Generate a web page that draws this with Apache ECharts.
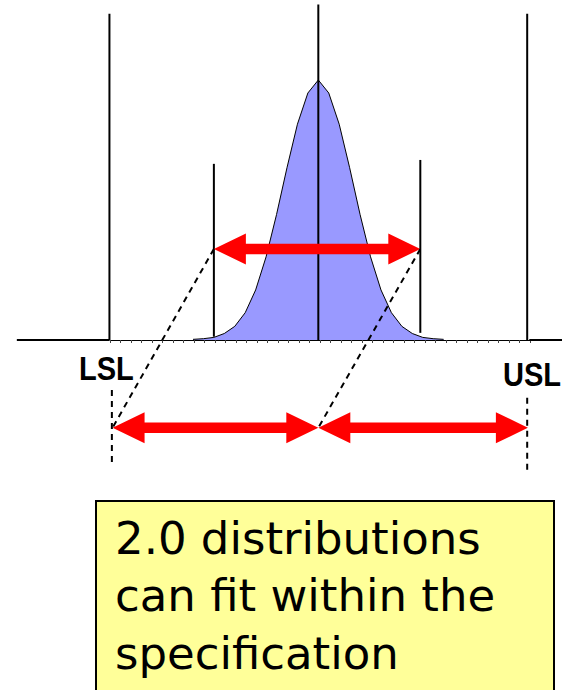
<!DOCTYPE html>
<html>
<head>
<meta charset="utf-8">
<title>Cp = 2.0</title>
<script src="https://cdn.jsdelivr.net/npm/echarts@6/dist/echarts.min.js"></script>
<style>
    html, body { margin: 0; padding: 0; background: #fff; }
    #chart { width: 562px; height: 690px; }
</style>
</head>
<body>
<div id="chart"></div>
<script>
// x in sigma units (mean = 0), y in density units

// bell curve vertices
const curveX = [-3.6, -3.3, -3.0, -2.7, -2.4, -2.1, -1.8, -1.5, -1.2, -0.9, -0.6, -0.3, 0,
    0.3, 0.6, 0.9, 1.2, 1.5, 1.8, 2.1, 2.4, 2.7, 3.0, 3.3, 3.6]
const curveY = [0.001, 0.002, 0.004, 0.010, 0.021, 0.042, 0.077, 0.128, 0.193, 0.265, 0.332, 0.380, 0.400,
    0.380, 0.332, 0.265, 0.193, 0.128, 0.077, 0.042, 0.021, 0.010, 0.004, 0.002, 0.001]

// spec limits (LSL, USL) and their line tops
const specX = [-6, 6]
const specTop = [0.502, 0.502]
// mean line
const meanX = 0
const meanTop = 0.516
// +/- 3 sigma lines
const sigmaX = [-3.0, 2.93]
const sigmaBottom = [0.005, 0.011]
const sigmaTop = [0.271, 0.277]

// thick baseline pieces outside the spec range
const baseLeft = [-8.66, -6]
const baseRight = [6.06, 7]
const tickStep = 0.3

// red double arrows: [from x, to x, y]
const arrows = [[-3.0, 2.93, 0.140], [-5.91, 0, -0.135], [0, 6.02, -0.135]]
// dashed connectors: [x1, y1, x2, y2]
const connectors = [[-3.0, 0.140, -5.91, -0.135], [2.93, 0.140, 0, -0.135]]
// dashed drops under the limits
const dropX = [-5.93, 6.0]
const dropTop = [-0.077, -0.089]
const dropBottom = [-0.195, -0.205]

const limitLabels = ['LSL', 'USL']
const noteLines = ['2.0 distributions', 'can fit within the', 'specification']

const chart = echarts.init(document.getElementById('chart'), null, { renderer: 'svg' })

function seg(x1, y1, x2, y2, style, z) {
    return {
        type: 'line',
        xAxisIndex: 0,
        yAxisIndex: 0,
        data: [[x1, y1], [x2, y2]],
        symbol: 'none',
        silent: true,
        lineStyle: style,
        z: z
    }
}

const solid = { color: '#000', width: 2 }
const dashed = { color: '#000', width: 2, type: [6, 5] }

const series = []

// curve
series.push({
    type: 'line',
    xAxisIndex: 0,
    yAxisIndex: 0,
    data: curveX.map((x, i) => [x, curveY[i]]),
    symbol: 'none',
    silent: true,
    lineStyle: { color: '#000', width: 1 },
    areaStyle: { color: '#9999ff', opacity: 1 },
    z: 1
})

series.push(seg(baseLeft[0], 0, baseLeft[1], 0, solid, 2))
series.push(seg(baseRight[0], 0, baseRight[1], 0, solid, 2))
specX.forEach((x, i) => series.push(seg(x, 0, x, specTop[i], solid, 3)))
sigmaX.forEach((x, i) => series.push(seg(x, sigmaBottom[i], x, sigmaTop[i], solid, 3)))
series.push(seg(meanX, 0, meanX, meanTop, solid, 3))
connectors.forEach(c => series.push(seg(c[0], c[1], c[2], c[3], dashed, 5)))
dropX.forEach((x, i) => series.push(seg(x, dropTop[i], x, dropBottom[i], dashed, 5)))

// red double arrows
series.push({
    type: 'custom',
    xAxisIndex: 0,
    yAxisIndex: 0,
    data: arrows,
    encode: { x: [0, 1], y: 2 },
    silent: true,
    z: 4,
    renderItem(params, api) {
        const a = api.coord([api.value(0), api.value(2)])
        const b = api.coord([api.value(1), api.value(2)])
        const y = a[1]
        const hl = 32, hw = 15.5, sw = 5.3
        return {
            type: 'polygon',
            shape: {
                points: [
                    [a[0], y], [a[0] + hl, y - hw], [a[0] + hl, y - sw],
                    [b[0] - hl, y - sw], [b[0] - hl, y - hw], [b[0], y],
                    [b[0] - hl, y + hw], [b[0] - hl, y + sw],
                    [a[0] + hl, y + sw], [a[0] + hl, y + hw]
                ]
            },
            style: { fill: '#ff0000' }
        }
    }
})

const labelFont = 'bold 33px "Liberation Sans", Arial, sans-serif'

chart.setOption({
    animation: false,
    backgroundColor: '#fff',
    grid: [
        { left: 5, width: 560, top: 2, height: 663 },
        { left: 110, width: 420, top: 300, height: 40 }
    ],
    xAxis: [
        { type: 'value', gridIndex: 0, min: -9, max: 7, show: false },
        {
            type: 'value', gridIndex: 1, min: -6, max: 6, interval: tickStep,
            axisLine: { onZero: false, lineStyle: { color: '#000', width: 1 } },
            axisTick: { length: 3, lineStyle: { color: '#444', width: 1 } },
            axisLabel: { show: false },
            splitLine: { show: false }
        }
    ],
    yAxis: [
        { type: 'value', gridIndex: 0, min: -0.5, max: 0.52, show: false },
        { type: 'value', gridIndex: 1, min: 0, max: 1, show: false }
    ],
    series: series,
    graphic: {
        elements: [
            {
                type: 'text', x: 79, y: 369, z: 10, scaleX: 0.88,
                style: { text: limitLabels[0], font: labelFont, fill: '#000', verticalAlign: 'middle' }
            },
            {
                type: 'text', x: 503, y: 375, z: 10, scaleX: 0.88,
                style: { text: limitLabels[1], font: labelFont, fill: '#000', verticalAlign: 'middle' }
            },
            {
                type: 'rect', z: 10,
                shape: { x: 96, y: 501, width: 458, height: 210 },
                style: { fill: '#ffff99', stroke: '#000', lineWidth: 2 }
            },
            ...noteLines.map((t, i) => ({
                type: 'text', x: 115, y: 538 + i * 57.5, z: 11,
                style: { text: t, font: '45px "DejaVu Sans", sans-serif', fill: '#000', verticalAlign: 'middle' }
            }))
        ]
    }
})
</script>
</body>
</html>
